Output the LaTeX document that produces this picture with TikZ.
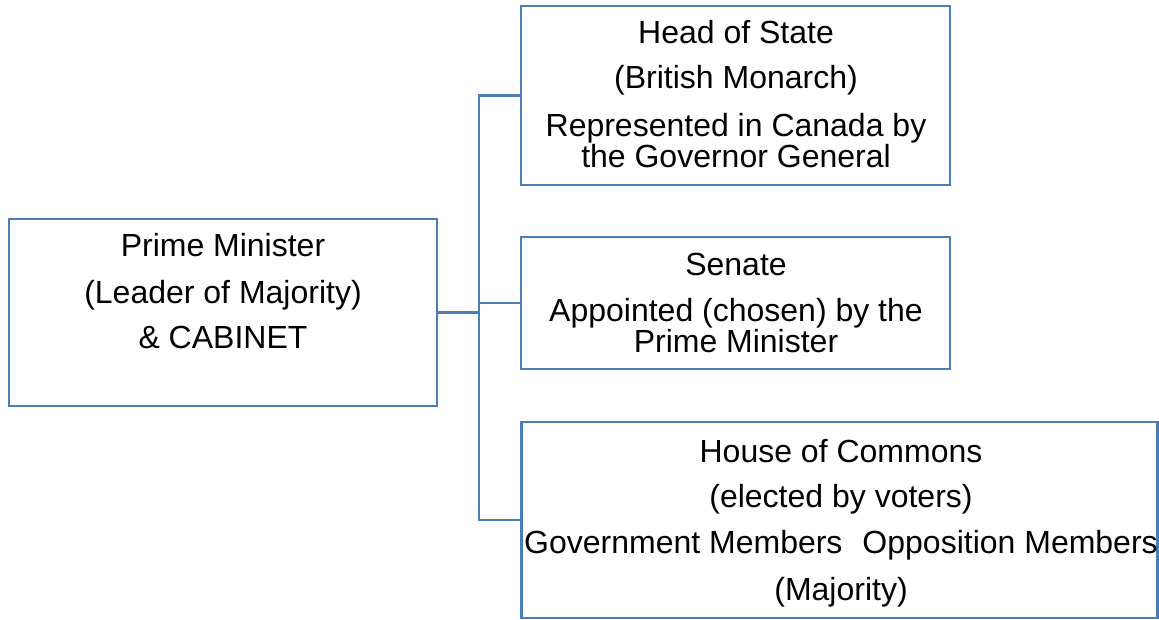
\documentclass[tikz,border=0pt]{standalone}
\usepackage{fontspec}
\setmainfont{Liberation Sans}
\definecolor{boxblue}{RGB}{74,126,187}
\begin{document}
\begin{tikzpicture}[x=1pt,y=-1pt,
  box/.style={draw=boxblue,line width=2.7pt,rectangle,inner sep=0pt,outer sep=0pt},
  conn/.style={draw=boxblue,line width=2.7pt},
  txt/.style={anchor=base,inner sep=0pt,font=\fontsize{32}{32}\selectfont}]
\useasboundingbox (0,0) rectangle (1159,620);
% boxes
\node[box,minimum width=428pt,minimum height=187pt] (pm) at (223,312.5) {};
\node[box,minimum width=429pt,minimum height=179pt] (head) at (735.5,95.5) {};
\node[box,minimum width=429pt,minimum height=132pt] (senate) at (735.5,303) {};
\node[box,minimum width=636pt,minimum height=196pt] (house) at (839.5,520) {};
% connectors
\coordinate (j) at (479,312.5);
\draw[conn] (pm.east) -- (j);
\draw[conn] (head.west) -| (j);
\draw[conn] (senate.west) -| (j);
\draw[conn] (house.west) -| (j);
% texts
\node[txt] (pm1) at (223,257) {Prime Minister};
\node[txt] (pm2) at (223,303) {(Leader of Majority)};
\node[txt] (pm3) at (223,348) {\& CABINET};
\node[txt] (h1) at (736,44) {Head of State};
\node[txt] (h2) at (736,89) {(British Monarch)};
\node[txt] (h3) at (736,137) {Represented in Canada by};
\node[txt] (h4) at (736,168) {the Governor General};
\node[txt] (s1) at (736,276) {Senate};
\node[txt] (s2) at (736,321) {Appointed (chosen) by the};
\node[txt] (s3) at (736,352) {Prime Minister};
\node[txt] (c1) at (841,462) {House of Commons};
\node[txt] (c2) at (841,507) {(elected by voters)};
\node[txt] (c3) at (841,553) {Government Members\hspace{20pt}Opposition Members};
\node[txt] (c4) at (841,600) {(Majority)};
\end{tikzpicture}
\end{document}
